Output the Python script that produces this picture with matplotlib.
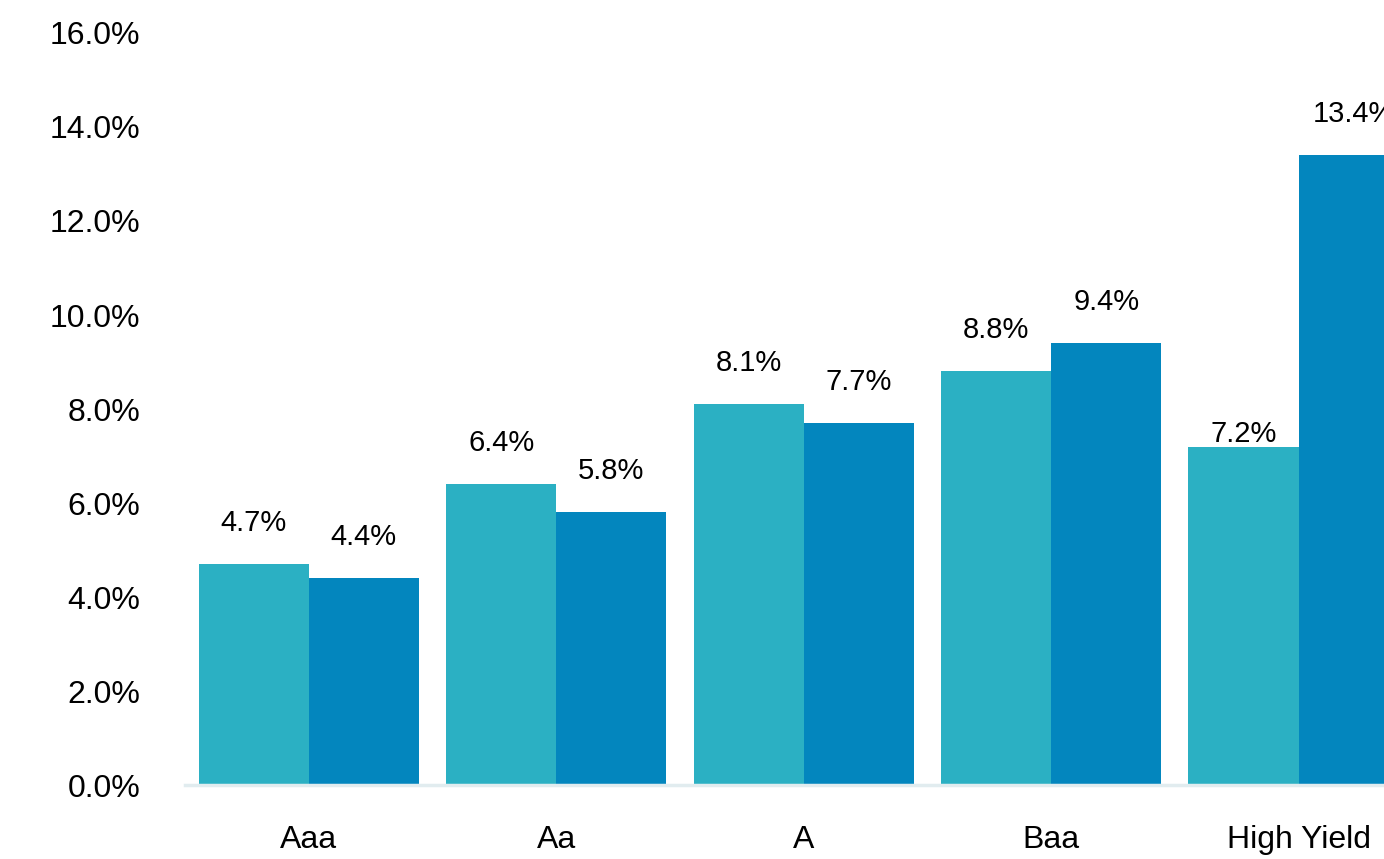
import numpy as np
import matplotlib
matplotlib.use('Agg')
import matplotlib.pyplot as plt
from matplotlib.ticker import FuncFormatter

plt.rcParams['font.family'] = ['Liberation Sans', 'DejaVu Sans']

categories = ['Aaa', 'Aa', 'A', 'Baa', 'High Yield']
series_a = [4.7, 6.4, 8.1, 8.8, 7.2]
series_b = [4.4, 5.8, 7.7, 9.4, 13.4]
yticks = np.arange(0, 17, 2)

col_a = '#2BB0C3'
col_b = '#0386BE'

fig = plt.figure(figsize=(13.84, 8.59), dpi=100)
# axes runs past the right edge, like the cropped original
ax = fig.add_axes([0.1337, 0.0861, 0.894, 0.8755])

x = np.arange(len(categories))
w = 0.445
ax.bar(x - w / 2, series_a, width=w, color=col_a, linewidth=0)
ax.bar(x + w / 2, series_b, width=w, color=col_b, linewidth=0)

# value labels above bars (pixel offsets)
for i in range(len(categories)):
    pad_a = 13 if categories[i] == 'High Yield' else 41
    ax.annotate('{:.1f}%'.format(series_a[i]), (x[i] - w / 2, series_a[i]),
                xytext=(0, pad_a), textcoords='offset pixels',
                ha='center', va='center', fontsize=21)
    ax.annotate('{:.1f}%'.format(series_b[i]), (x[i] + w / 2, series_b[i]),
                xytext=(0, 41), textcoords='offset pixels',
                ha='center', va='center', fontsize=21)

ax.set_xlim(-0.5, 4.5)
ax.set_ylim(0, 16)
ax.set_yticks(yticks)
ax.yaxis.set_major_formatter(FuncFormatter(lambda v, p: '{:.1f}%'.format(v)))
ax.set_xticks(x)
ax.set_xticklabels(categories)
ax.tick_params(axis='both', length=0, labelsize=23)
ax.tick_params(axis='y', pad=32)
ax.tick_params(axis='x', pad=29)

for s in ['top', 'right', 'left']:
    ax.spines[s].set_visible(False)
ax.spines['bottom'].set_color('#E1ECEF')
ax.spines['bottom'].set_linewidth(2.5)

fig.savefig('out.png', dpi=100)
